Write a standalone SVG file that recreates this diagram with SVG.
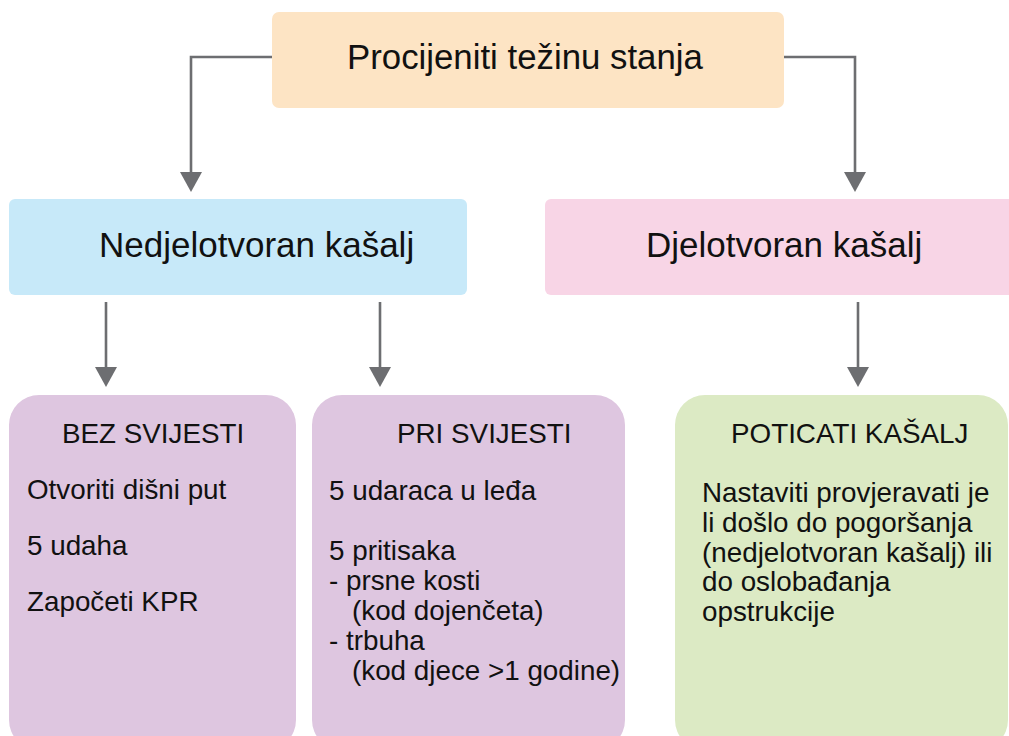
<svg xmlns="http://www.w3.org/2000/svg" width="1009" height="736" viewBox="0 0 1009 736">
  <style>
    text { font-family: "Liberation Sans", Arial, Helvetica, sans-serif; fill: #111; }
    .big { font-size: 34.8px; }
    .mid { font-size: 35px; }
    .body { font-size: 27.8px; }
    .conn { fill: none; stroke: #6d6e71; stroke-width: 2.6; }
  </style>
  <defs>
    <marker id="arrow" viewBox="0 0 20 22" refX="2" refY="11" markerWidth="20" markerHeight="22" markerUnits="userSpaceOnUse" orient="auto">
      <path d="M0,0 L20,11 L0,22 Z" fill="#6d6e71"/>
    </marker>
  </defs>

  <rect width="1009" height="736" fill="#ffffff"/>

  <!-- connectors -->
  <g id="connectors">
    <path class="conn" d="M272,57 H191 V174" marker-end="url(#arrow)"/>
    <path class="conn" d="M784,57 H855 V174" marker-end="url(#arrow)"/>
    <path class="conn" d="M106,302 V369" marker-end="url(#arrow)"/>
    <path class="conn" d="M380,302 V369" marker-end="url(#arrow)"/>
    <path class="conn" d="M858,302 V369" marker-end="url(#arrow)"/>
  </g>

  <!-- assess severity -->
  <g id="node-assess">
    <rect x="272" y="12" width="512" height="96" rx="7" fill="#fde4c4"/>
    <text class="big" x="347" y="69">Procijeniti težinu stanja</text>
  </g>

  <!-- ineffective cough -->
  <g id="node-ineffective">
    <rect x="9" y="199" width="458" height="96" rx="6" fill="#c7e9f9"/>
    <text class="mid" x="99" y="257">Nedjelotvoran kašalj</text>
  </g>

  <!-- effective cough -->
  <g id="node-effective">
    <rect x="545" y="199" width="480" height="96" rx="6" fill="#f8d5e6"/>
    <text class="mid" x="646" y="257">Djelotvoran kašalj</text>
  </g>

  <!-- unconscious -->
  <g id="node-unconscious">
    <rect x="9" y="395" width="287" height="355" rx="30" fill="#dec6e0"/>
    <text class="body" x="62" y="443">BEZ SVIJESTI</text>
    <text class="body" x="27" y="499">Otvoriti dišni put</text>
    <text class="body" x="27" y="555">5 udaha</text>
    <text class="body" x="27" y="611">Započeti KPR</text>
  </g>

  <!-- conscious -->
  <g id="node-conscious">
    <rect x="312" y="395" width="313" height="355" rx="30" fill="#dec6e0"/>
    <text class="body" x="397" y="443">PRI SVIJESTI</text>
    <text class="body" x="329" y="500">5 udaraca u leđa</text>
    <text class="body" x="329" y="560">5 pritisaka</text>
    <text class="body" x="329" y="590">- prsne kosti</text>
    <text class="body" x="352" y="620">(kod dojenčeta)</text>
    <text class="body" x="329" y="650">- trbuha</text>
    <text class="body" x="352" y="680">(kod djece &gt;1 godine)</text>
  </g>

  <!-- encourage coughing -->
  <g id="node-encourage">
    <rect x="675" y="395" width="333" height="355" rx="30" fill="#dceac4"/>
    <text class="body" x="731" y="443">POTICATI KAŠALJ</text>
    <text class="body" x="702" y="502">Nastaviti provjeravati je</text>
    <text class="body" x="702" y="532">li došlo do pogoršanja</text>
    <text class="body" x="702" y="562">(nedjelotvoran kašalj) ili</text>
    <text class="body" x="702" y="591">do oslobađanja</text>
    <text class="body" x="702" y="621">opstrukcije</text>
  </g>
</svg>
